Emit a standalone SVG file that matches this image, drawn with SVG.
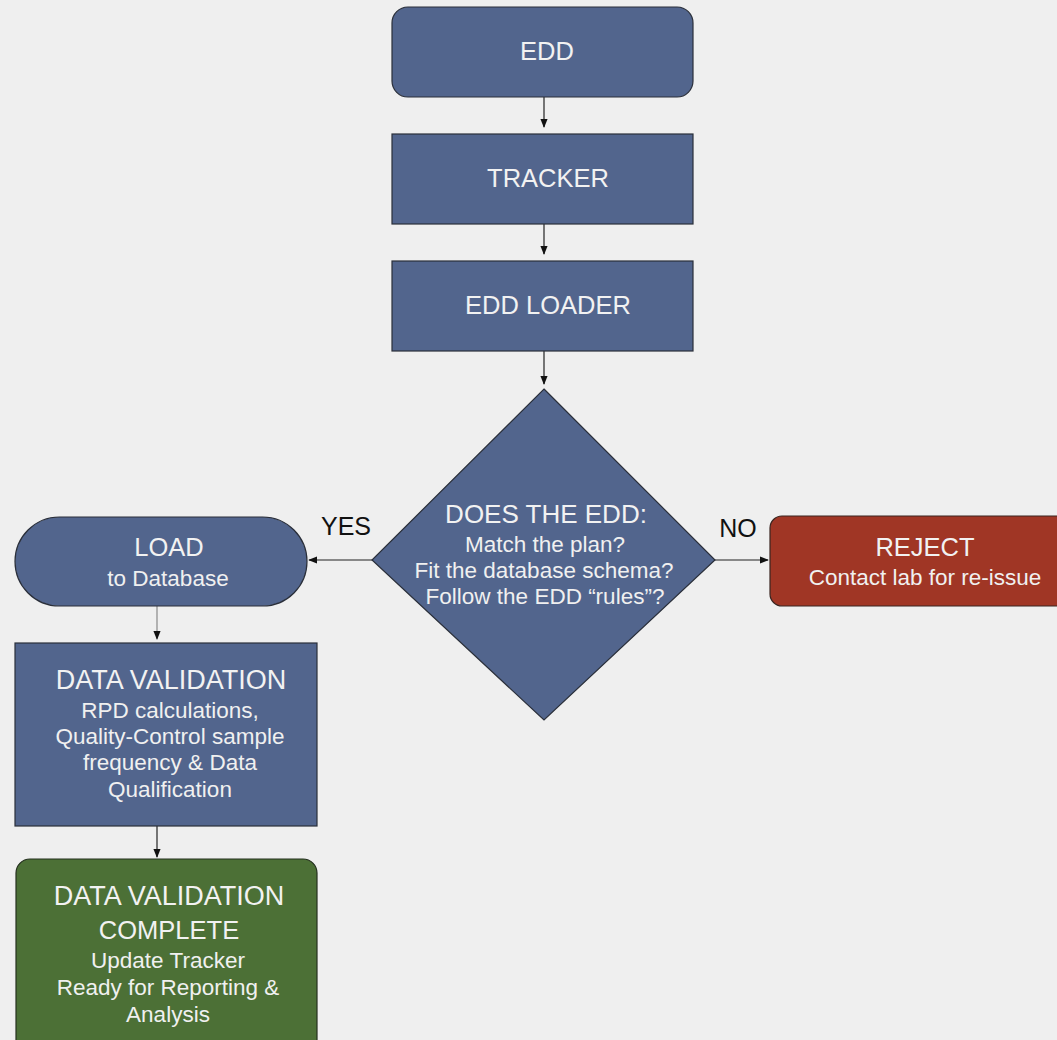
<svg xmlns="http://www.w3.org/2000/svg" width="1057" height="1040" viewBox="0 0 1057 1040">
<style>
.blue{fill:#52658d;stroke:#2a2f3a;stroke-width:1.2}
.red{fill:#a03625;stroke:#3a2520;stroke-width:1.2}
.green{fill:#4c7036;stroke:#25301f;stroke-width:1.2}
text{font-family:"Liberation Sans",Arial,sans-serif;text-anchor:middle}
.t{fill:#f2f2f2;font-size:25.5px}
.dv{font-size:27px}
.b{fill:#f0f0f0;font-size:22.5px}
.lbl{fill:#111;font-size:25px}
.c{stroke:#222;stroke-width:1.2;fill:none}
</style>
<defs>
<marker id="ah" viewBox="0 0 10 10" refX="9" refY="5" markerWidth="9" markerHeight="9" markerUnits="userSpaceOnUse" orient="auto">
<path d="M0,1 L10,5 L0,9 Z" fill="#111"/>
</marker>
</defs>
<rect width="1057" height="1040" fill="#efefef"/>
<g id="connectors">
<line class="c" x1="544" y1="97" x2="544" y2="127" marker-end="url(#ah)"/>
<line class="c" x1="544" y1="224" x2="544" y2="254" marker-end="url(#ah)"/>
<line class="c" x1="544" y1="351" x2="544" y2="384" marker-end="url(#ah)"/>
<line class="c" x1="372" y1="560" x2="309" y2="560" marker-end="url(#ah)"/>
<line class="c" x1="715" y1="560" x2="768" y2="560" marker-end="url(#ah)"/>
<line class="c" x1="157" y1="606" x2="157" y2="639" marker-end="url(#ah)" style="stroke:#888"/>
<line class="c" x1="157" y1="826" x2="157" y2="857" marker-end="url(#ah)"/>
<text class="lbl" x="346" y="535">YES</text>
<text class="lbl" x="738" y="537">NO</text>
</g>
<g id="edd">
<rect class="blue" x="392" y="7" width="301" height="90" rx="16"/>
<text class="t" x="547" y="60">EDD</text>
</g>
<g id="tracker">
<rect class="blue" x="392" y="134" width="301" height="90"/>
<text class="t" x="548" y="187">TRACKER</text>
</g>
<g id="loader">
<rect class="blue" x="392" y="261" width="301" height="90"/>
<text class="t" x="548" y="314">EDD LOADER</text>
</g>
<g id="decision">
<polygon class="blue" points="544,389 715,560 544,720 372,560"/>
<text class="t" style="font-size:26px" x="546" y="523">DOES THE EDD:</text>
<text class="b" x="545" y="552">Match the plan?</text>
<text class="b" x="544" y="578">Fit the database schema?</text>
<text class="b" x="545" y="604">Follow the EDD “rules”?</text>
</g>
<g id="load">
<rect class="blue" x="15" y="517" width="292" height="89" rx="44.5"/>
<text class="t" x="169" y="556">LOAD</text>
<text class="b" x="168" y="586">to Database</text>
</g>
<g id="reject">
<rect class="red" x="770" y="516" width="310" height="90" rx="12"/>
<text class="t" x="925" y="556">REJECT</text>
<text class="b" x="925" y="585">Contact lab for re-issue</text>
</g>
<g id="validation">
<rect class="blue" x="15" y="643" width="302" height="183"/>
<text class="t dv" x="171" y="689">DATA VALIDATION</text>
<text class="b" x="170" y="718">RPD calculations,</text>
<text class="b" x="170" y="744">Quality-Control sample</text>
<text class="b" x="170" y="770">frequency &amp; Data</text>
<text class="b" x="170" y="797">Qualification</text>
</g>
<g id="complete">
<rect class="green" x="16" y="859" width="301" height="210" rx="14"/>
<text class="t dv" x="169" y="905">DATA VALIDATION</text>
<text class="t" x="169" y="939">COMPLETE</text>
<text class="b" x="168" y="968">Update Tracker</text>
<text class="b" x="168" y="995">Ready for Reporting &amp;</text>
<text class="b" x="168" y="1022">Analysis</text>
</g>
</svg>
